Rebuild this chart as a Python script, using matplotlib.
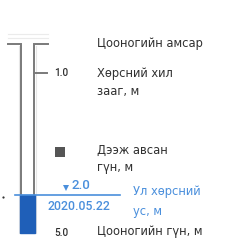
import matplotlib
matplotlib.use("Agg")
import matplotlib.pyplot as plt
from matplotlib.patches import Rectangle

# ---- data ----
boundary_depth = 1.0
water_depth = 2.0
well_depth = 5.0
measure_date = "2020.05.22"
labels = ["Цооногийн амсар", "Хөрсний хил\nзааг, м", "Дээж авсан\nгүн, м",
          "Ул хөрсний\nус, м", "Цооногийн гүн, м"]

# ---- layout (schematic, pixel-like coordinates) ----
W, H = 240, 248
fig = plt.figure(figsize=(2.4, 2.48), dpi=100)
ax = fig.add_axes([0, 0, 1, 1])
ax.set_xlim(0, W)
ax.set_ylim(H, 0)
ax.axis("off")

gray = "#7a7a7a"
blue = "#4a8fdc"
fill_blue = "#1f5fb8"
txt = "#303030"
fs = 8.3
font = "DejaVu Sans"
numfont = ["Roboto", "DejaVu Sans"]

y_top, y_bnd, y_smp, y_wat, y_bot = 44, 73, 152, 195, 233
xl, xr = 21, 34

# faint lines above the top
for yy in (34, 38):
    ax.plot([8, 48], [yy, yy], color="#ebebeb", lw=0.8)

# water fill
ax.add_patch(Rectangle((xl - 1, y_wat), xr - xl + 2, y_bot - y_wat, color=fill_blue, zorder=3))

# casing
ax.plot([8, xl, xl], [y_top, y_top, y_bot], color=gray, lw=1.4, solid_joinstyle="miter", zorder=2)
ax.plot([48, xr, xr], [y_top, y_top, y_bot], color=gray, lw=1.4, solid_joinstyle="miter", zorder=2)
ax.plot([xl - 2, xl - 2], [y_top + 2, y_bot], color="#e6e6e6", lw=0.8, zorder=1)
ax.plot([xr + 2, xr + 2], [y_top + 2, y_bot], color="#e6e6e6", lw=0.8, zorder=1)

# boundary tick
ax.plot([xr, 47], [y_bnd, y_bnd], color=gray, lw=1.4)
ax.text(54, y_bnd, f"{boundary_depth:.1f}", fontsize=7.2, color=txt, fontweight="medium",
        va="center", ha="left", family=numfont)

# sample marker
ax.plot([60], [y_smp], marker="s", ms=7, color="#555555", mew=0)

# water line
ax.plot([15, 120], [y_wat, y_wat], color=blue, lw=1.2, zorder=4)
ax.plot([3], [y_wat + 2], marker="o", ms=1.6, color="#333333", mew=0)
ax.plot([66], [y_wat - 7], marker="v", ms=4.5, color=blue, mew=0)
ax.text(71, y_wat - 9.5, f"{water_depth:.1f}", fontsize=9.5, color=blue, fontweight="medium",
        va="center", ha="left", family=numfont)
ax.text(48, y_wat + 11, measure_date, fontsize=8.8, color=blue, fontweight="medium",
        va="center", ha="left", family=numfont)

# well depth
ax.text(54, y_bot, f"{well_depth:.1f}", fontsize=7.2, color=txt, fontweight="medium",
        va="center", ha="left", family=numfont)

# right labels (one text per line)
tx = 97
placements = [(tx, [44], txt), (tx, [73, 92], txt), (tx, [150, 168], txt),
              (133, [192, 211], blue), (tx, [232], txt)]
for lab, (x0, ys, col) in zip(labels, placements):
    for line, yy in zip(lab.split("\n"), ys):
        ax.text(x0, yy, line, fontsize=fs, color=col, va="center", ha="left", family=font)

fig.savefig("out.png", dpi=100)
